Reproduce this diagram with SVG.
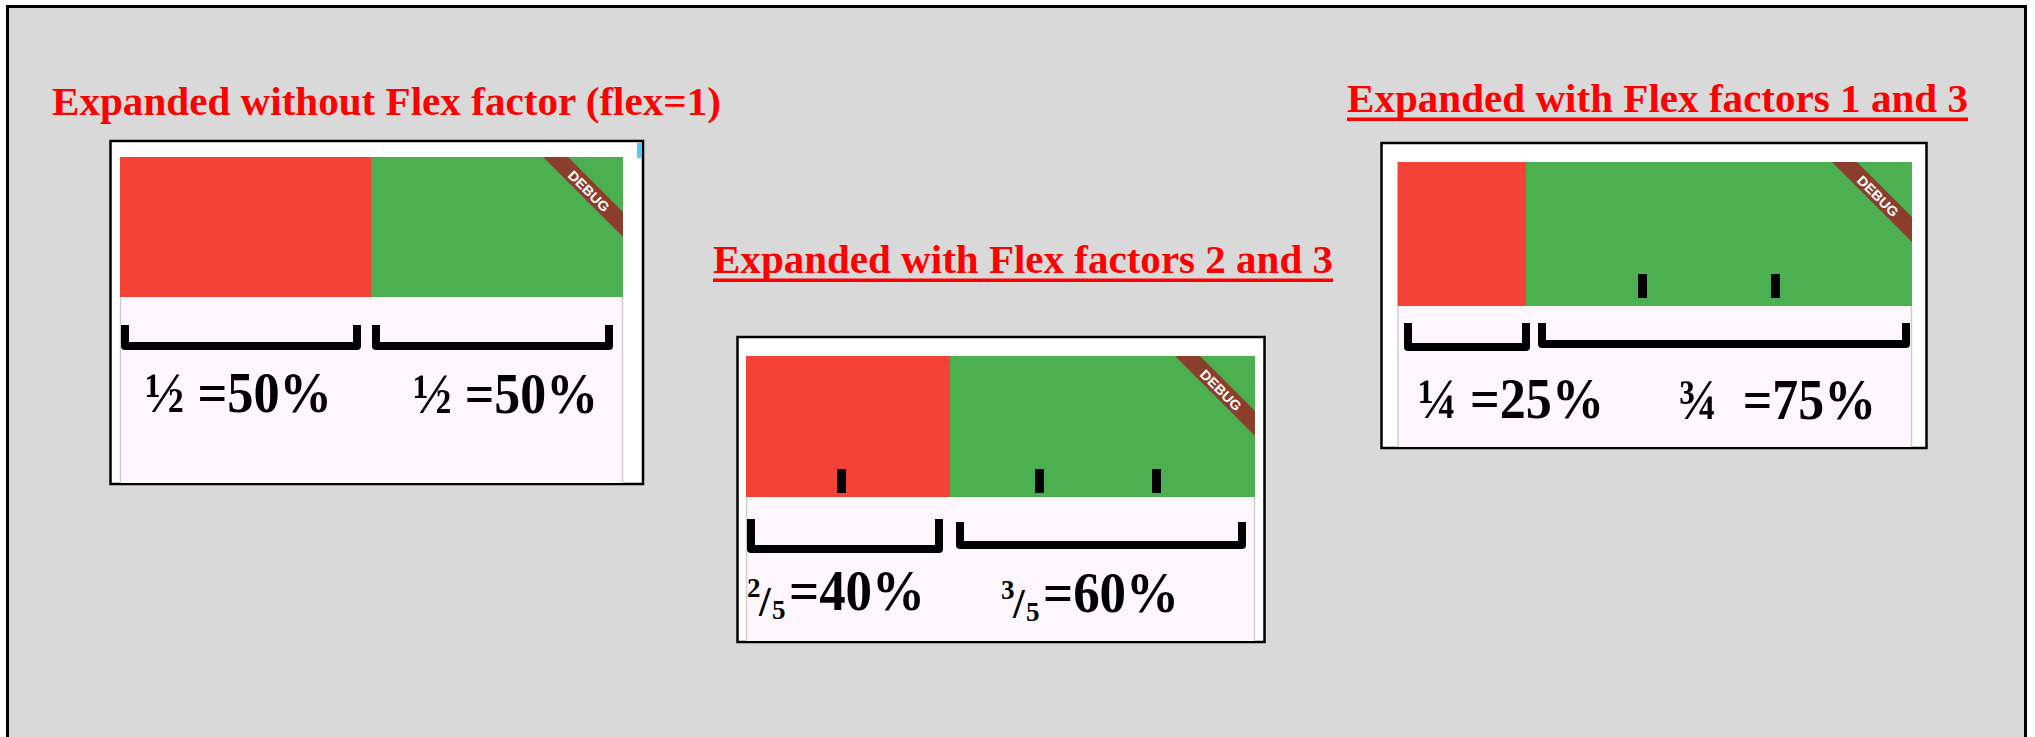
<svg xmlns="http://www.w3.org/2000/svg" width="2035" height="737" viewBox="0 0 2035 737">
<defs>
<style>
.title{font-family:"Liberation Serif","Times New Roman",serif;font-weight:bold;font-size:41px;fill:#ff0000}
.lbl{font-family:"Liberation Serif","Times New Roman",serif;font-weight:bold;fill:#000}
.frame{fill:#ffffff;stroke:#000;stroke-width:2.5}
.red{fill:#f44336}
.green{fill:#4caf50}
.pink{fill:#fdf6fd}
.edge{stroke:#cfcfcf;stroke-width:1.5}
.brk{fill:none;stroke:#000;stroke-width:8;stroke-linejoin:round}
.tick{fill:#000}
.rib{fill:#8c3e2c}
.dbg{font-family:"Liberation Sans",Arial,sans-serif;font-weight:bold;font-size:13.5px;fill:#ffffff}
</style>
</defs>
<rect x="0" y="0" width="2035" height="737" fill="#ffffff"/>
<rect x="7.5" y="6.5" width="2018" height="740" fill="#d9d9d9" stroke="#000" stroke-width="3"/>

<g id="title1">
<text class="title" x="52" y="115" textLength="669" lengthAdjust="spacingAndGlyphs">Expanded without Flex factor (flex=1)</text>
</g>
<g id="title2">
<text class="title" x="713" y="273" textLength="620" lengthAdjust="spacingAndGlyphs">Expanded with Flex factors 2 and 3</text>
<rect x="713" y="278.5" width="620" height="3.5" fill="#ff0000"/>
</g>
<g id="title3">
<text class="title" x="1347" y="112" textLength="621" lengthAdjust="spacingAndGlyphs">Expanded with Flex factors 1 and 3</text>
<rect x="1347" y="117.5" width="621" height="3.5" fill="#ff0000"/>
</g>

<g id="panel1">
<rect class="frame" x="110.5" y="141" width="532.5" height="343"/>
<rect x="637" y="143" width="5" height="15" fill="#5ac8f5"/>
<rect class="red" x="120" y="157" width="251" height="140"/>
<rect class="green" x="371" y="157" width="252" height="140"/>
<polygon class="rib" points="543,157 568,157 623,212 623,237"/>
<text class="dbg" x="0" y="0" text-anchor="middle" textLength="52" lengthAdjust="spacingAndGlyphs" transform="translate(589,191) rotate(45) translate(0,5)">DEBUG</text>
<rect class="pink" x="120" y="297" width="503" height="186"/>
<line class="edge" x1="120.5" y1="297" x2="120.5" y2="483"/>
<line class="edge" x1="622.5" y1="297" x2="622.5" y2="483"/>
<path class="brk" d="M125,325 V346 H357 V325"/>
<path class="brk" d="M376,325 V346 H609 V325"/>
<text class="lbl" x="145" y="412" font-size="57" textLength="187" lengthAdjust="spacingAndGlyphs">½ =50%</text>
<text class="lbl" x="413" y="413" font-size="57" textLength="185" lengthAdjust="spacingAndGlyphs">½ =50%</text>
</g>

<g id="panel2">
<rect class="frame" x="737.5" y="337" width="527" height="305"/>
<rect class="red" x="746" y="356" width="204" height="141"/>
<rect class="green" x="950" y="356" width="305" height="141"/>
<polygon class="rib" points="1175,356 1200,356 1255,411 1255,436"/>
<text class="dbg" x="0" y="0" text-anchor="middle" textLength="52" lengthAdjust="spacingAndGlyphs" transform="translate(1221,390) rotate(45) translate(0,5)">DEBUG</text>
<rect class="tick" x="837" y="469" width="9" height="24"/>
<rect class="tick" x="1035" y="469" width="9" height="24"/>
<rect class="tick" x="1152" y="469" width="9" height="24"/>
<rect class="pink" x="746" y="497" width="509" height="144"/>
<line class="edge" x1="746.5" y1="497" x2="746.5" y2="641"/>
<line class="edge" x1="1254.5" y1="497" x2="1254.5" y2="641"/>
<path class="brk" d="M751,519 V549 H939 V519"/>
<path class="brk" d="M960,522 V545 H1242 V522"/>
<text class="lbl"><tspan x="747" y="597" font-size="27">2</tspan><tspan x="759" y="616" font-size="42">/</tspan><tspan x="772" y="619" font-size="27">5</tspan><tspan x="789" y="610" font-size="56" textLength="136" lengthAdjust="spacingAndGlyphs">=40%</tspan></text>
<text class="lbl"><tspan x="1001" y="599" font-size="27">3</tspan><tspan x="1013" y="618" font-size="42">/</tspan><tspan x="1026" y="621" font-size="27">5</tspan><tspan x="1043" y="612" font-size="56" textLength="136" lengthAdjust="spacingAndGlyphs">=60%</tspan></text>
</g>

<g id="panel3">
<rect class="frame" x="1381.5" y="143" width="545" height="305"/>
<rect class="red" x="1397.5" y="162" width="129" height="144"/>
<rect class="green" x="1526" y="162" width="386" height="144"/>
<polygon class="rib" points="1832,162 1857,162 1912,217 1912,242"/>
<text class="dbg" x="0" y="0" text-anchor="middle" textLength="52" lengthAdjust="spacingAndGlyphs" transform="translate(1878,196) rotate(45) translate(0,5)">DEBUG</text>
<rect class="tick" x="1638" y="274" width="9" height="24"/>
<rect class="tick" x="1771" y="274" width="9" height="24"/>
<rect class="pink" x="1397.5" y="306" width="514.5" height="141"/>
<line class="edge" x1="1398" y1="306" x2="1398" y2="447"/>
<line class="edge" x1="1911.5" y1="306" x2="1911.5" y2="447"/>
<path class="brk" d="M1408,323 V347 H1526 V323"/>
<path class="brk" d="M1542,323 V344 H1906 V323"/>
<text class="lbl" x="1418" y="418" font-size="56" textLength="186" lengthAdjust="spacingAndGlyphs">¼ =25%</text>
<text class="lbl" x="1678" y="419" font-size="56" textLength="198" lengthAdjust="spacingAndGlyphs" xml:space="preserve">¾  =75%</text>
</g>
</svg>
